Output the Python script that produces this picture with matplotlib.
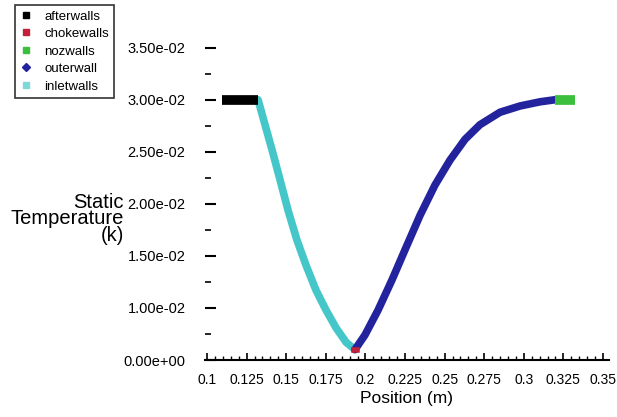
import matplotlib.pyplot as plt
from matplotlib.lines import Line2D

plt.rcParams['font.family'] = ['Liberation Sans', 'DejaVu Sans']

# ============================================================
# data (position [m], static temperature)
after_x = [0.1095, 0.1322]
after_y = [0.0300, 0.0300]

choke_x = [0.1925, 0.1945]
choke_y = [0.0060, 0.0060]

noz_x = [0.3197, 0.3323]
noz_y = [0.0300, 0.0300]

outer_x = [0.1934, 0.1997, 0.2080, 0.2168, 0.2256, 0.2345, 0.2439, 0.2534,
           0.2629, 0.2723, 0.2850, 0.2976, 0.3102, 0.3197]
outer_y = [0.0060, 0.0074, 0.0098, 0.0127, 0.0158, 0.0189, 0.0218, 0.0242,
           0.0262, 0.0276, 0.0288, 0.0294, 0.0298, 0.0300]

inlet_x = [0.1322, 0.1366, 0.1410, 0.1461, 0.1511, 0.1568, 0.1625, 0.1688,
           0.1751, 0.1814, 0.1878, 0.1934]
inlet_y = [0.0300, 0.0276, 0.0252, 0.0223, 0.0194, 0.0165, 0.0141, 0.0117,
           0.0098, 0.0081, 0.0067, 0.0060]

legend_names = ["afterwalls", "chokewalls", "nozwalls", "outerwall", "inletwalls"]

x_ticks = [0.1, 0.125, 0.15, 0.175, 0.2, 0.225, 0.25, 0.275, 0.3, 0.325, 0.35]
x_labels = ["0.1", "0.125", "0.15", "0.175", "0.2", "0.225", "0.25",
            "0.275", "0.3", "0.325", "0.35"]
y_ticks = [0.005, 0.010, 0.015, 0.020, 0.025, 0.030, 0.035]
y_labels = ["0.00e+00", "1.00e-02", "1.50e-02", "2.00e-02", "2.50e-02",
            "3.00e-02", "3.50e-02"]

# ============================================================
fig = plt.figure(figsize=(6.17, 4.17), dpi=100)
W, H = 617, 417
ax = fig.add_axes([205 / W, 1 - 360 / H, (609 - 205) / W, (360 - 30) / H])

ax.plot(inlet_x, inlet_y, color="#45c6c8", lw=5.5, solid_capstyle="round")
ax.plot(outer_x, outer_y, color="#23239e", lw=5.5, solid_capstyle="round")
ax.plot(choke_x, choke_y, color="#c0203a", lw=4)
ax.plot(noz_x, noz_y, color="#3cbf3c", lw=7, solid_capstyle="butt")
ax.plot(after_x, after_y, color="black", lw=7, solid_capstyle="butt")

ax.set_xlim(0.0987, 0.3538)
ax.set_ylim(0.005, 0.0367)

for s in ["top", "right", "left"]:
    ax.spines[s].set_visible(False)
ax.spines["bottom"].set_linewidth(1.5)

ax.set_xticks(x_ticks)
ax.set_xticklabels(x_labels)
ax.set_xticks([0.1 + 0.005 * i for i in range(51)], minor=True)
ax.set_yticks(y_ticks)
ax.set_yticklabels(y_labels)
ax.set_yticks([0.0075 + 0.005 * i for i in range(6)], minor=True)

ax.tick_params(axis="x", which="major", direction="in", length=5, width=1.2,
               labelsize=10, pad=9)
ax.tick_params(axis="x", which="minor", direction="in", length=3, width=1)
ax.tick_params(axis="y", which="major", direction="in", length=8, width=1.5,
               labelsize=10.5, pad=14)
ax.tick_params(axis="y", which="minor", direction="in", length=4, width=1.2)

ax.set_xlabel("Position (m)", fontsize=12.5, labelpad=3)
fig.text(124 / W, 1 - 219 / H, "Static\nTemperature\n(k)", ha="right", va="center",
         multialignment="right", fontsize=14.5, linespacing=0.85)

handles = [
    Line2D([], [], ls="none", marker="s", color="black", markersize=4),
    Line2D([], [], ls="none", marker="s", color="#c0203a", markersize=4),
    Line2D([], [], ls="none", marker="s", color="#3cbf3c", markersize=4),
    Line2D([], [], ls="none", marker="D", color="#23239e", markersize=4),
    Line2D([], [], ls="none", marker="s", color="#7fd8d8", markersize=4),
]
leg = fig.legend(handles, legend_names, loc="upper left",
                 bbox_to_anchor=(15 / W, 1 - 5 / H), fontsize=9.5,
                 frameon=True, fancybox=False, edgecolor="black",
                 handlelength=0.8, handletextpad=1.0, labelspacing=0.4,
                 borderpad=0.4, borderaxespad=0)
leg.get_frame().set_linewidth(1.2)

fig.savefig("out.png", dpi=100)
